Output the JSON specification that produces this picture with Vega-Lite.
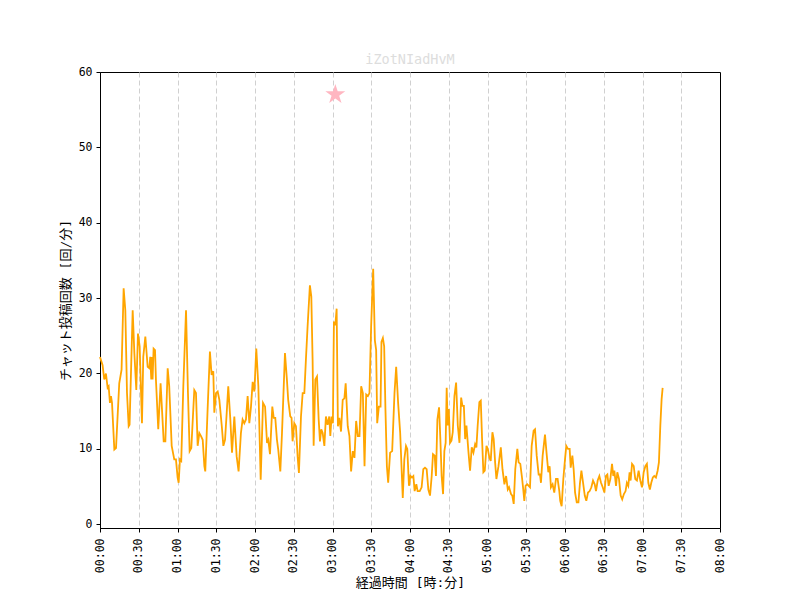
{
  "$schema": "https://vega.github.io/schema/vega-lite/v6.json",
  "width": 620,
  "height": 456,
  "autosize": {"type": "none"},
  "padding": {"left": 100, "top": 72, "right": 80, "bottom": 72},
  "background": "white",
  "title": {
    "text": "iZotNIadHvM",
    "color": "#dddddd",
    "font": "DejaVu Sans Mono, Noto Sans CJK JP",
    "fontSize": 13.5,
    "fontWeight": "normal",
    "anchor": "middle",
    "offset": 0
  },
  "config": {
    "font": "DejaVu Sans Mono, Noto Sans CJK JP",
    "view": {"stroke": "black", "strokeWidth": 1},
    "axis": {
      "domainColor": "black",
      "tickColor": "black",
      "labelColor": "black",
      "titleColor": "black",
      "labelFont": "DejaVu Sans Mono, Noto Sans CJK JP",
      "titleFont": "DejaVu Sans Mono, Noto Sans CJK JP",
      "labelFontSize": 11.5,
      "titleFontSize": 13,
      "titleFontWeight": "normal",
      "tickSize": 4,
      "labelPadding": 4
    }
  },
  "datasets": {
    "chat": [
      {"t":0,"v":22.2},{"t":2.0,"v":21.1},{"t":3.3,"v":19.2},{"t":4.6,"v":20.0},{"t":5.9,"v":18.1},{"t":6.7,"v":18.3},{"t":7.7,"v":16.1},{"t":8.5,"v":17.0},{"t":9.3,"v":16.1},{"t":11.1,"v":9.9},{"t":12.4,"v":10.1},{"t":14.9,"v":18.7},{"t":16.7,"v":20.5},{"t":18.3,"v":31.3},{"t":19.6,"v":28.4},{"t":20.9,"v":17.4},{"t":22.2,"v":13.0},{"t":22.9,"v":13.2},{"t":25.3,"v":28.4},{"t":26.6,"v":22.7},{"t":28.1,"v":17.8},{"t":29.4,"v":25.3},{"t":30.7,"v":23.6},{"t":32.5,"v":13.4},{"t":33.5,"v":22.2},{"t":35.1,"v":24.9},{"t":36.9,"v":20.9},{"t":38.2,"v":20.7},{"t":38.9,"v":22.2},{"t":39.7,"v":19.2},{"t":40.2,"v":22.2},{"t":40.7,"v":19.2},{"t":41.5,"v":23.3},{"t":42.6,"v":23.1},{"t":43.3,"v":19.2},{"t":45.1,"v":12.6},{"t":46.9,"v":18.7},{"t":48.0,"v":15.2},{"t":49.3,"v":11.0},{"t":50.6,"v":11.0},{"t":52.4,"v":20.7},{"t":53.6,"v":18.3},{"t":55.5,"v":10.4},{"t":57.5,"v":8.6},{"t":58.8,"v":8.6},{"t":60.1,"v":6.2},{"t":60.9,"v":5.5},{"t":61.9,"v":8.6},{"t":62.9,"v":8.4},{"t":64.5,"v":18.3},{"t":66.6,"v":28.4},{"t":68.1,"v":17.4},{"t":69.4,"v":9.7},{"t":70.7,"v":10.1},
      {"t":73.0,"v":17.8},{"t":74.3,"v":17.4},{"t":75.6,"v":10.4},{"t":76.9,"v":12.1},{"t":78.2,"v":11.7},{"t":79.5,"v":11.2},{"t":80.8,"v":7.7},{"t":81.5,"v":7.0},{"t":83.3,"v":15.2},{"t":85.1,"v":22.9},{"t":86.4,"v":19.8},{"t":87.7,"v":20.3},{"t":88.5,"v":14.8},{"t":89.8,"v":17.4},{"t":91.1,"v":17.6},{"t":92.4,"v":16.5},{"t":94.3,"v":13.0},{"t":95.5,"v":10.4},{"t":96.8,"v":11.2},{"t":98.1,"v":14.8},{"t":99.3,"v":18.3},{"t":100.9,"v":13.9},{"t":102.2,"v":9.5},{"t":104.0,"v":14.3},{"t":105.8,"v":9.0},{"t":107.3,"v":7.0},{"t":109.1,"v":12.1},{"t":110.4,"v":13.9},{"t":111.7,"v":13.4},{"t":113.0,"v":13.9},{"t":114.3,"v":17.0},{"t":115.6,"v":13.4},{"t":116.9,"v":15.6},{"t":118.2,"v":18.9},{"t":119.5,"v":17.6},{"t":121.0,"v":23.3},{"t":122.6,"v":18.3},{"t":124.4,"v":5.9},{"t":126.2,"v":16.1},{"t":127.8,"v":15.6},{"t":129.3,"v":10.8},{"t":130.3,"v":11.2},{"t":131.6,"v":9.3},{"t":133.4,"v":15.6},{"t":134.5,"v":14.1},{"t":135.7,"v":14.1},{"t":137.0,"v":11.2},{"t":138.0,"v":9.9},{"t":139.6,"v":7.0},{"t":140.9,"v":12.1},{"t":143.2,"v":22.7},{"t":144.7,"v":19.2},{"t":145.7,"v":16.5},{"t":147.3,"v":14.3},{"t":148.3,"v":14.1},{"t":149.1,"v":11.0},{"t":150.4,"v":13.4},{"t":151.7,"v":13.0},{"t":153.0,"v":9.0},{"t":154.0,"v":6.8},
      {"t":155.6,"v":14.3},{"t":156.9,"v":17.4},{"t":158.2,"v":17.4},{"t":159.4,"v":21.8},{"t":160.7,"v":26.2},{"t":162.5,"v":31.7},{"t":163.6,"v":30.2},{"t":164.6,"v":21.8},{"t":165.4,"v":10.4},{"t":166.7,"v":19.2},{"t":168.0,"v":19.6},{"t":169.3,"v":13.9},{"t":170.3,"v":11.0},{"t":171.3,"v":12.6},{"t":172.4,"v":12.1},{"t":173.7,"v":10.4},{"t":174.9,"v":14.3},{"t":176.2,"v":13.2},{"t":177.5,"v":14.3},{"t":178.3,"v":11.7},{"t":179.3,"v":14.3},{"t":180.3,"v":13.4},{"t":181.1,"v":26.9},{"t":182.2,"v":26.4},{"t":183.2,"v":28.6},{"t":184.2,"v":13.0},{"t":185.3,"v":14.1},{"t":186.6,"v":12.3},{"t":187.9,"v":16.5},{"t":189.2,"v":16.7},{"t":190.2,"v":18.7},{"t":191.8,"v":13.0},{"t":193.1,"v":11.7},{"t":194.4,"v":7.0},{"t":195.7,"v":9.7},{"t":197.0,"v":8.8},{"t":198.3,"v":13.7},{"t":199.6,"v":11.7},{"t":200.9,"v":11.7},{"t":202.2,"v":18.3},{"t":203.5,"v":17.4},{"t":204.8,"v":7.7},{"t":206.1,"v":17.2},{"t":207.4,"v":17.0},{"t":208.6,"v":17.4},{"t":209.9,"v":26.2},{"t":211.5,"v":33.9},{"t":212.8,"v":24.4},{"t":213.8,"v":23.1},{"t":214.6,"v":13.4},{"t":215.9,"v":15.6},{"t":217.2,"v":15.6},{"t":217.9,"v":24.2},{"t":219.0,"v":24.7},{"t":220.0,"v":23.6},{"t":221.0,"v":15.2},{"t":222.1,"v":7.7},{"t":223.1,"v":5.5},{"t":224.6,"v":9.5},{"t":226.2,"v":9.7},{"t":228.0,"v":17.4},{"t":229.3,"v":20.9},{"t":230.8,"v":16.1},{"t":232.4,"v":12.1},{"t":234.4,"v":3.5},
      {"t":235.6,"v":8.6},{"t":236.9,"v":10.4},{"t":237.9,"v":10.0},{"t":239.2,"v":5.1},{"t":240.3,"v":6.4},{"t":241.5,"v":6.2},{"t":242.6,"v":6.4},{"t":243.6,"v":4.4},{"t":244.9,"v":5.3},{"t":245.9,"v":4.4},{"t":247.5,"v":4.4},{"t":249.0,"v":4.9},{"t":250.3,"v":7.3},{"t":251.6,"v":7.5},{"t":252.9,"v":7.3},{"t":254.2,"v":4.6},{"t":255.5,"v":3.8},{"t":256.8,"v":6.4},{"t":257.8,"v":9.3},{"t":259.1,"v":9.1},{"t":260.1,"v":6.4},{"t":261.2,"v":13.9},{"t":262.5,"v":15.5},{"t":263.5,"v":11.3},{"t":264.5,"v":6.4},{"t":265.6,"v":4.0},{"t":266.6,"v":9.7},{"t":267.6,"v":10.8},{"t":268.4,"v":18.1},{"t":269.2,"v":13.1},{"t":270.0,"v":15.3},{"t":271.0,"v":10.8},{"t":272.1,"v":11.1},{"t":273.1,"v":12.2},{"t":274.4,"v":17.0},{"t":275.7,"v":18.8},{"t":277.0,"v":13.1},{"t":278.3,"v":10.8},{"t":279.6,"v":16.8},{"t":280.6,"v":15.7},{"t":281.7,"v":15.7},{"t":282.7,"v":11.3},{"t":283.7,"v":13.1},{"t":285.3,"v":9.5},{"t":286.5,"v":7.1},{"t":287.8,"v":10.2},{"t":289.1,"v":9.5},{"t":290.4,"v":10.6},{"t":291.4,"v":10.2},{"t":292.4,"v":13.1},{"t":293.7,"v":16.2},{"t":294.8,"v":16.4},{"t":295.8,"v":11.3},{"t":296.8,"v":6.9},{"t":297.9,"v":7.1},{"t":299.2,"v":10.4},{"t":300.2,"v":10.0},{"t":301.5,"v":8.8},{"t":302.5,"v":8.4},{"t":303.8,"v":12.2},{"t":304.8,"v":11.3},{"t":305.9,"v":8.2},{"t":306.9,"v":6.0},{"t":308.5,"v":7.7},{"t":310.3,"v":10.2},{"t":311.6,"v":7.3},{"t":313.1,"v":5.3},{"t":314.4,"v":6.4},{"t":315.7,"v":4.6},{"t":316.7,"v":4.9},
      {"t":318.2,"v":4.0},{"t":319.2,"v":3.8},{"t":320.3,"v":2.7},{"t":321.5,"v":7.3},{"t":323.1,"v":10.0},{"t":324.1,"v":8.2},{"t":325.4,"v":8.0},{"t":326.7,"v":6.2},{"t":327.7,"v":4.6},{"t":328.5,"v":3.1},{"t":329.5,"v":5.1},{"t":330.8,"v":5.3},{"t":331.9,"v":5.1},{"t":332.9,"v":4.9},{"t":334.2,"v":10.4},{"t":335.7,"v":12.4},{"t":336.8,"v":12.6},{"t":338.1,"v":9.1},{"t":339.6,"v":6.6},{"t":340.6,"v":6.6},{"t":341.4,"v":5.5},{"t":342.7,"v":9.1},{"t":344.5,"v":11.9},{"t":345.8,"v":9.3},{"t":347.1,"v":6.9},{"t":348.1,"v":7.7},{"t":349.1,"v":4.9},{"t":350.4,"v":5.3},{"t":351.7,"v":4.2},{"t":353.0,"v":6.0},{"t":354.3,"v":6.0},{"t":355.6,"v":4.4},{"t":356.3,"v":3.1},{"t":357.4,"v":2.4},{"t":358.7,"v":6.0},{"t":360.0,"v":8.6},{"t":361.0,"v":10.4},{"t":362.3,"v":10.0},{"t":363.6,"v":10.0},{"t":364.4,"v":7.5},{"t":365.7,"v":9.1},{"t":366.7,"v":7.3},{"t":367.8,"v":4.2},{"t":369.1,"v":2.9},{"t":370.4,"v":2.9},{"t":371.6,"v":5.5},{"t":372.7,"v":7.1},{"t":374.0,"v":5.5},{"t":375.3,"v":3.8},{"t":376.5,"v":3.1},{"t":377.8,"v":4.2},{"t":379.1,"v":4.4},{"t":380.4,"v":4.9},{"t":381.7,"v":5.8},{"t":383.0,"v":5.3},{"t":384.0,"v":4.4},{"t":385.3,"v":5.8},{"t":386.6,"v":6.4},{"t":387.9,"v":5.5},{"t":389.2,"v":4.9},{"t":390.5,"v":4.2},{"t":391.7,"v":6.4},{"t":392.8,"v":6.6},{"t":393.8,"v":5.1},{"t":395.1,"v":6.0},{"t":396.4,"v":8.0},{"t":397.4,"v":6.4},
      {"t":398.2,"v":7.1},{"t":399.5,"v":5.1},{"t":400.5,"v":6.9},{"t":401.8,"v":6.0},{"t":403.1,"v":3.8},{"t":404.3,"v":3.3},{"t":405.6,"v":4.0},{"t":406.9,"v":4.4},{"t":407.9,"v":5.5},{"t":409.0,"v":5.1},{"t":410.0,"v":6.9},{"t":410.8,"v":5.8},{"t":411.9,"v":8.0},{"t":413.2,"v":7.7},{"t":414.4,"v":6.0},{"t":415.7,"v":5.8},{"t":417.0,"v":7.1},{"t":418.3,"v":5.8},{"t":419.6,"v":4.9},{"t":420.9,"v":6.9},{"t":422.2,"v":7.7},{"t":423.4,"v":8.0},{"t":424.5,"v":5.5},{"t":425.7,"v":4.6},{"t":426.8,"v":5.5},{"t":428.0,"v":6.2},{"t":429.1,"v":6.4},{"t":430.4,"v":6.2},{"t":431.7,"v":7.1},{"t":432.7,"v":8.2},{"t":433.8,"v":13.1},{"t":434.8,"v":16.6},{"t":435.6,"v":18.1}
    ],
    "star": [{"t": 182.2, "v": 57.0}]
  },
  "encoding": {
    "x": {
      "field": "t",
      "type": "quantitative",
      "scale": {"domain": [0, 480], "nice": false, "zero": false},
      "axis": {
        "title": "経過時間 [時:分]",
        "values": [0, 30, 60, 90, 120, 150, 180, 210, 240, 270, 300, 330, 360, 390, 420, 450, 480],
        "labelExpr": "utcFormat(datum.value * 60000, '%H:%M')",
        "labelAngle": -90,
        "labelAlign": "right",
        "labelBaseline": "middle",
        "labelFlush": false,
        "labelOverlap": false,
        "labelPadding": 6,
        "titlePadding": 4,
        "grid": true,
        "gridColor": "#d0d0d0",
        "gridDash": [5, 3],
        "gridWidth": 1,
        "gridOpacity": {"condition": {"test": "datum.value <= 0 || datum.value >= 480", "value": 0}, "value": 1}
      }
    },
    "y": {
      "field": "v",
      "type": "quantitative",
      "scale": {"domain": [-0.5, 60], "nice": false, "zero": false},
      "axis": {
        "title": "チャット投稿回数 [回/分]",
        "values": [0, 10, 20, 30, 40, 50, 60],
        "grid": false,
        "labelFlush": false,
        "titlePadding": 6
      }
    }
  },
  "layer": [
    {
      "data": {"name": "chat"},
      "mark": {"type": "line", "color": "#FFA500", "strokeWidth": 1.8, "interpolate": "linear"}
    },
    {
      "data": {"name": "star"},
      "mark": {
        "type": "point",
        "shape": "M0,-1L0.2245,-0.309L0.951,-0.309L0.363,0.118L0.588,0.809L0,0.382L-0.588,0.809L-0.363,0.118L-0.951,-0.309L-0.2245,-0.309Z",
        "filled": true,
        "color": "#FFB6C1",
        "size": 440,
        "opacity": 1
      }
    }
  ]
}
